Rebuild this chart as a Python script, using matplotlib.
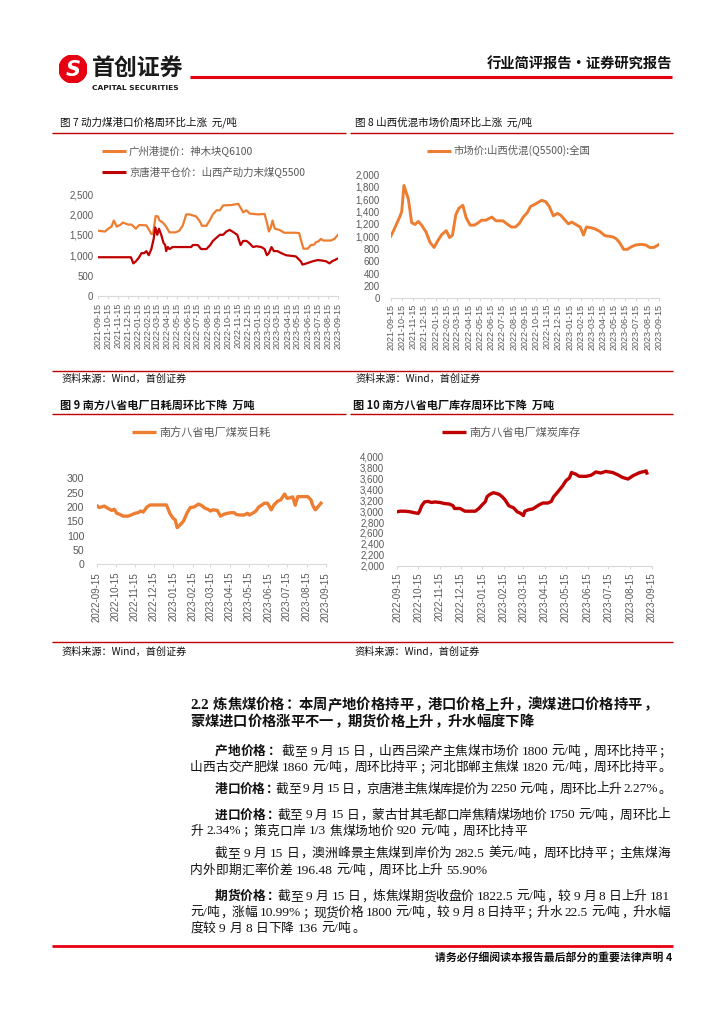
import re
import pandas as pd
import matplotlib
matplotlib.use('Agg')
import matplotlib.pyplot as plt
from matplotlib.lines import Line2D
from matplotlib.patches import Circle
from matplotlib.ticker import FuncFormatter

plt.rcParams['font.family'] = ['Noto Sans CJK SC', 'DejaVu Sans']

# 数据：图7 动力煤港口价格
c7_gz_dates = ['2021-09-15', '2021-10-07', '2021-10-17', '2021-10-27', '2021-11-03', '2021-11-12', '2021-11-24',
               '2021-11-30', '2021-12-17', '2021-12-27', '2022-01-09', '2022-01-19', '2022-02-10', '2022-02-16',
               '2022-02-25', '2022-03-02', '2022-03-10', '2022-03-17', '2022-03-22', '2022-04-01', '2022-04-11',
               '2022-04-21', '2022-05-09', '2022-05-21', '2022-05-31', '2022-06-11', '2022-06-21', '2022-07-11',
               '2022-07-23', '2022-07-29', '2022-08-11', '2022-08-21', '2022-08-31', '2022-09-11', '2022-09-21',
               '2022-10-01', '2022-10-26', '2022-11-16', '2022-11-24', '2022-12-01', '2022-12-11', '2022-12-21',
               '2023-01-15', '2023-02-04', '2023-02-11', '2023-02-17', '2023-02-23', '2023-02-28', '2023-03-07',
               '2023-03-21', '2023-04-05', '2023-05-10', '2023-05-20', '2023-05-28', '2023-06-02', '2023-06-15',
               '2023-06-25', '2023-07-05', '2023-07-10', '2023-07-18', '2023-07-25', '2023-08-01', '2023-08-25',
               '2023-09-04', '2023-09-15']
c7_gz = [1600, 1580, 1650, 1700, 1850, 1700, 1750, 1800, 1750, 1750, 1650, 1740, 1730, 1650, 1520, 1520,
         1960, 1950, 1850, 1800, 1700, 1560, 1560, 1600, 1720, 2000, 2000, 1950, 1820, 1720, 1720, 1850,
         2000, 2100, 2100, 2220, 2230, 2260, 2150, 2050, 2100, 2020, 2000, 2010, 1800, 1580, 1680, 1850,
         1650, 1620, 1550, 1550, 1540, 1300, 1160, 1160, 1250, 1260, 1320, 1340, 1400, 1360, 1360, 1400, 1500]
c7_jt_dates = ['2021-09-15', '2021-12-25', '2022-01-01', '2022-01-09', '2022-01-19', '2022-01-26', '2022-02-03',
               '2022-02-10', '2022-02-17', '2022-02-25', '2022-03-04', '2022-03-09', '2022-03-15', '2022-03-20',
               '2022-03-27', '2022-04-03', '2022-04-08', '2022-04-11', '2022-04-16', '2022-04-21', '2022-05-01',
               '2022-06-26', '2022-07-01', '2022-07-16', '2022-07-26', '2022-08-11', '2022-08-23', '2022-08-31',
               '2022-09-21', '2022-10-01', '2022-10-11', '2022-10-21', '2022-10-31', '2022-11-13', '2022-11-23',
               '2022-12-01', '2022-12-11', '2022-12-19', '2022-12-31', '2023-01-10', '2023-01-25', '2023-02-04',
               '2023-02-11', '2023-02-17', '2023-02-25', '2023-03-04', '2023-03-15', '2023-03-27', '2023-04-10',
               '2023-05-10', '2023-05-25', '2023-05-30', '2023-06-12', '2023-06-30', '2023-07-15', '2023-07-28',
               '2023-08-10', '2023-08-20', '2023-08-28', '2023-09-15']
c7_jt = [950, 950, 800, 850, 950, 1050, 1050, 1100, 1000, 1150, 1400, 1680, 1500, 1650, 1500, 1300, 1250,
         1100, 1200, 1150, 1200, 1200, 1250, 1250, 1150, 1150, 1250, 1350, 1500, 1500, 1580, 1620, 1570,
         1500, 1250, 1350, 1350, 1300, 1200, 1220, 1200, 1150, 1000, 1050, 1200, 1100, 1100, 1050, 1000,
         970, 850, 770, 800, 850, 880, 870, 850, 800, 850, 920]

# 图8 山西优混市场价
c8_dates = ['2021-09-15', '2021-09-22', '2021-10-01', '2021-10-10', '2021-10-15', '2021-10-21', '2021-11-02',
            '2021-11-11', '2021-11-20', '2021-11-29', '2021-12-08', '2021-12-20', '2021-12-31', '2022-01-11',
            '2022-01-20', '2022-02-01', '2022-02-13', '2022-02-22', '2022-03-02', '2022-03-11', '2022-03-19',
            '2022-03-30', '2022-04-08', '2022-04-19', '2022-04-30', '2022-05-09', '2022-05-20', '2022-06-01',
            '2022-06-10', '2022-06-17', '2022-06-28', '2022-07-17', '2022-07-28', '2022-08-09', '2022-08-20',
            '2022-08-31', '2022-09-10', '2022-09-21', '2022-09-30', '2022-10-16', '2022-10-30', '2022-11-10',
            '2022-11-20', '2022-12-01', '2022-12-12', '2022-12-21', '2023-01-02', '2023-01-11', '2023-01-20',
            '2023-02-03', '2023-02-12', '2023-02-21', '2023-03-01', '2023-03-12', '2023-03-24', '2023-04-06',
            '2023-04-20', '2023-05-02', '2023-05-12', '2023-05-21', '2023-05-30', '2023-06-10', '2023-06-20',
            '2023-07-01', '2023-07-13', '2023-07-28', '2023-08-09', '2023-08-20', '2023-08-31', '2023-09-15']
c8_vals = [1000, 1080, 1200, 1320, 1400, 1820, 1600, 1220, 1190, 1240, 1180, 1070, 900, 820, 920, 1030,
           1090, 980, 1020, 1350, 1450, 1500, 1300, 1180, 1180, 1210, 1260, 1260, 1290, 1310, 1250, 1250,
           1200, 1150, 1150, 1210, 1310, 1380, 1480, 1530, 1580, 1560, 1480, 1330, 1370, 1340, 1260, 1200,
           1230, 1180, 1150, 1020, 1150, 1140, 1120, 1080, 1010, 1000, 990, 960, 900, 790, 790, 830, 860,
           870, 860, 820, 820, 870]

# 图9 南方八省电厂煤炭日耗
c9_dates = ['2022-09-15', '2022-09-19', '2022-09-27', '2022-10-03', '2022-10-09', '2022-10-13', '2022-10-17',
            '2022-10-22', '2022-10-27', '2022-11-04', '2022-11-09', '2022-11-15', '2022-11-20', '2022-11-24',
            '2022-11-28', '2022-12-04', '2022-12-09', '2022-12-19', '2023-01-04', '2023-01-10', '2023-01-15',
            '2023-01-18', '2023-01-21', '2023-01-26', '2023-01-31', '2023-02-06', '2023-02-11', '2023-02-17',
            '2023-02-24', '2023-03-01', '2023-03-06', '2023-03-11', '2023-03-15', '2023-03-19', '2023-03-26',
            '2023-03-31', '2023-04-06', '2023-04-11', '2023-04-17', '2023-04-22', '2023-04-25', '2023-04-30',
            '2023-05-08', '2023-05-13', '2023-05-16', '2023-05-21', '2023-05-26', '2023-05-31', '2023-06-09',
            '2023-06-14', '2023-06-20', '2023-06-24', '2023-06-30', '2023-07-05', '2023-07-11', '2023-07-15',
            '2023-07-20', '2023-07-24', '2023-07-28', '2023-08-01', '2023-08-09', '2023-08-17', '2023-08-22',
            '2023-08-25', '2023-08-29', '2023-09-02', '2023-09-07']
c9_vals = [205, 198, 203, 195, 188, 192, 178, 174, 168, 168, 172, 178, 180, 186, 182, 200, 207, 207, 207, 175,
           160, 155, 128, 138, 150, 180, 198, 200, 210, 205, 196, 192, 186, 190, 188, 168, 175, 178, 180, 180,
           174, 172, 172, 178, 172, 178, 185, 200, 213, 213, 190, 207, 220, 225, 245, 230, 232, 235, 206, 236,
           236, 236, 225, 205, 190, 200, 213]

# 图10 南方八省电厂煤炭库存
c10_dates = ['2022-09-15', '2022-09-19', '2022-09-26', '2022-10-03', '2022-10-10', '2022-10-15', '2022-10-17',
             '2022-10-20', '2022-10-24', '2022-10-29', '2022-11-03', '2022-11-08', '2022-11-15', '2022-11-22',
             '2022-11-29', '2022-12-04', '2022-12-06', '2022-12-14', '2022-12-21', '2023-01-05', '2023-01-10',
             '2023-01-15', '2023-01-19', '2023-01-22', '2023-01-26', '2023-01-31', '2023-02-08', '2023-02-13',
             '2023-02-17', '2023-02-22', '2023-03-01', '2023-03-06', '2023-03-11', '2023-03-15', '2023-03-17',
             '2023-03-23', '2023-03-28', '2023-04-02', '2023-04-07', '2023-04-12', '2023-04-19', '2023-04-24',
             '2023-04-27', '2023-05-03', '2023-05-10', '2023-05-15', '2023-05-20', '2023-05-23', '2023-05-29',
             '2023-06-03', '2023-06-13', '2023-06-20', '2023-06-27', '2023-07-04', '2023-07-11', '2023-07-21',
             '2023-07-28', '2023-08-04', '2023-08-12', '2023-08-19', '2023-08-24', '2023-08-29', '2023-09-05',
             '2023-09-07', '2023-09-08']
c10_vals = [2990, 3000, 3000, 2990, 2970, 2960, 3000, 3100, 3170, 3180, 3160, 3170, 3160, 3140, 3130, 3100,
            3050, 3050, 3000, 3000, 3050, 3120, 3170, 3270, 3310, 3340, 3310, 3260, 3200, 3100, 3060, 2990,
            2960, 2920, 3000, 3030, 3040, 3080, 3120, 3150, 3150, 3180, 3260, 3350, 3460, 3560, 3610, 3710,
            3680, 3640, 3640, 3660, 3720, 3700, 3730, 3710, 3670, 3620, 3590, 3650, 3680, 3710, 3730, 3740, 3700]

ORANGE = '#ED7D31'
DRED = '#C00000'
RED = '#E60012'
GREY = '#595959'

W, H = 724, 1024
fig = plt.figure(figsize=(W / 100, H / 100), dpi=100)
renderer = fig.canvas.get_renderer()


def fx(x):
    return x / W


def fy(y):
    return 1 - y / H


def hline(x0, x1, y, color, lw):
    fig.add_artist(Line2D([fx(x0), fx(x1)], [fy(y), fy(y)], color=color, lw=lw,
                          transform=fig.transFigure, solid_capstyle='butt'))


def txt(x, y, s, **kw):
    return fig.text(fx(x), fy(y), s, va='center', **kw)


PUNCT = '，。；：、'


def text_line(x0, y, parts, x1=670, justify=False, size=9.2, color='#111111'):
    # 逐字排版：中文按整字宽，西文用衬线体；justify 时两端对齐，过长时压缩
    em = size * 100 / 72
    toks = []
    for s, w in parts:
        for t in re.findall(r'[!-~]+| +|.', s):
            toks.append((t, w))
    items = []
    for t, w in toks:
        if t.strip() == '':
            items.append((None, 0.25 * em * len(t), 'sp'))
        elif ord(t[0]) > 127:
            a = fig.text(0, 0, t, fontsize=size, fontweight=w, va='center', color=color,
                         ha='left' if t in PUNCT else 'center')
            items.append((a, em, 'punct' if t in PUNCT else 'cjk'))
        else:
            a = fig.text(0, 0, t, fontsize=size * 1.05, fontweight=w, va='center', color=color, ha='left',
                         fontfamily=['Liberation Serif', 'DejaVu Serif'])
            items.append((a, a.get_window_extent(renderer).width + 0.05 * em, 'asc'))
    gap = (x1 - x0 - sum(i[1] for i in items)) / max(len(items) - 1, 1)
    if not justify:
        gap = min(gap, 0)
    x = x0
    for a, wd, kind in items:
        if a is not None:
            if kind == 'cjk':
                a.set_position((fx(x + wd / 2), fy(y)))
            elif kind == 'punct':
                a.set_position((fx(x + 0.1 * em), fy(y)))
            else:
                a.set_position((fx(x + 0.02 * em), fy(y + 0.5)))
        x += wd + gap


def make_chart(left, right, ymax_y, ymin_y, ylim, yticks, xstart, xend, series, lw,
               yfs, xfs, ypad, xpad):
    ax = fig.add_axes([fx(left), fy(ymin_y), (right - left) / W, (ymin_y - ymax_y) / H])
    ax.patch.set_alpha(0)
    for dates, vals, c in series:
        ax.plot(pd.to_datetime(dates), vals, color=c, lw=lw, solid_joinstyle='round')
    ax.set_xlim(pd.Timestamp(xstart), pd.Timestamp(xend))
    ax.set_ylim(*ylim)
    ax.set_yticks(yticks)
    ax.yaxis.set_major_formatter(FuncFormatter(lambda v, p: f'{v:,.0f}'))
    ticks = pd.date_range(xstart, xend, freq=pd.DateOffset(months=1))
    ax.set_xticks(ticks)
    ax.set_xticklabels([t.strftime('%Y-%m-%d') for t in ticks], rotation=90)
    for s in ['top', 'right', 'left']:
        ax.spines[s].set_visible(False)
    ax.spines['bottom'].set_color('#D9D9D9')
    ax.spines['bottom'].set_linewidth(0.8)
    ax.tick_params(axis='y', length=0, labelsize=yfs, labelcolor=GREY, pad=ypad)
    ax.tick_params(axis='x', length=2.5, width=0.8, color='#D9D9D9', labelsize=xfs,
                   labelcolor=GREY, pad=xpad)
    for lab in ax.get_xticklabels() + ax.get_yticklabels():
        lab.set_fontfamily(['Liberation Sans', 'DejaVu Sans'])
    return ax


def legend_item(x0, y, color, label, lw, size):
    hline(x0, x0 + 24, y, color, lw)
    txt(x0 + 27, y, label, fontsize=size, color=GREY)


# 页眉
logo = fig.add_axes([fx(59), fy(83), 28 / W, 28 / H])
logo.set_xlim(-1, 1)
logo.set_ylim(-1, 1)
logo.axis('off')
logo.add_patch(Circle((0, 0), 1, color=RED))
logo.text(0, -0.05, 'S', color='white', fontsize=15, fontweight='bold', ha='center', va='center',
          fontfamily='DejaVu Sans', style='italic')
txt(92, 68, '首创证券', fontsize=16.5, fontweight='bold', color='#1a1a1a')
txt(92, 88, 'CAPITAL SECURITIES', fontsize=5.4, fontweight='bold', color='#1a1a1a',
    fontfamily='DejaVu Sans')
txt(672, 65, '行业简评报告·证券研究报告', fontsize=10.3, fontweight='bold', color='#111111', ha='right')
hline(190, 672, 77, RED, 2.2)

# 图7 / 图8
txt(60, 122, '图 7 动力煤港口价格周环比上涨  元/吨', fontsize=7.6, color='#111111')
txt(355, 122, '图 8 山西优混市场价周环比上涨  元/吨', fontsize=7.6, color='#111111')
hline(52, 346, 133, DRED, 1.0)
hline(350, 673, 133, DRED, 1.0)

make_chart(97.7, 338, 194, 296, (0, 2500), range(0, 2501, 500), '2021-09-15', '2023-09-15',
           [(c7_gz_dates, c7_gz, ORANGE), (c7_jt_dates, c7_jt, DRED)], 1.6, 7, 6.5, 3.2, 2.5)
legend_item(102, 150.7, ORANGE, '广州港提价：神木块Q6100', 2.2, 7.5)
legend_item(102, 171.7, DRED, '京唐港平仓价：山西产动力末煤Q5500', 2.2, 7.5)

make_chart(390.7, 659.3, 174.3, 298.3, (0, 2000), range(0, 2001, 200), '2021-09-15', '2023-09-15',
           [(c8_dates, c8_vals, ORANGE)], 2.1, 7, 6.5, 8, 1.5)
legend_item(427, 150.7, ORANGE, '市场价:山西优混(Q5500):全国', 2.2, 7.5)

hline(52, 673, 371, DRED, 1.0)
txt(61, 379, '资料来源：Wind，首创证券', fontsize=7.3, color='#111111', style='italic')
txt(355, 379, '资料来源：Wind，首创证券', fontsize=7.3, color='#111111', style='italic')

# 图9 / 图10
txt(60, 405, '图 9 南方八省电厂日耗周环比下降  万吨', fontsize=8, color='#111111', fontweight='bold')
txt(353, 405, '图 10 南方八省电厂库存周环比下降  万吨', fontsize=8, color='#111111', fontweight='bold')
hline(52, 346, 414.3, DRED, 1.0)
hline(350, 673, 414.3, DRED, 1.0)

make_chart(96.7, 326, 478.3, 564.3, (0, 300), range(0, 301, 50), '2022-09-15', '2023-09-15',
           [(c9_dates, c9_vals, ORANGE)], 2.4, 7.6, 7, 9, 3)
legend_item(132, 432.3, ORANGE, '南方八省电厂煤炭日耗', 2.4, 8)

make_chart(397.3, 651.7, 456.7, 565.7, (2000, 4000), range(2000, 4001, 200), '2022-09-15', '2023-09-15',
           [(c10_dates, c10_vals, DRED)], 2.4, 7, 7, 9.4, 2.5)
legend_item(442, 432.3, DRED, '南方八省电厂煤炭库存', 2.4, 8)

hline(52, 673, 642.3, DRED, 1.0)
txt(61, 651.7, '资料来源：Wind，首创证券', fontsize=7.3, color='#111111', style='italic')
txt(354, 651.7, '资料来源：Wind，首创证券', fontsize=7.3, color='#111111', style='italic')

# 正文
text_line(190, 705, [('2.2 炼焦煤价格：本周产地价格持平，港口价格上升，澳煤进口价格持平，', 'bold')], size=10.3)
text_line(190, 721.7, [('蒙煤进口价格涨平不一，期货价格上升，升水幅度下降', 'bold')], size=10.3)

text_line(215, 751.7, [('产地价格：', 'bold'), (' 截至 9 月 15 日，山西吕梁产主焦煤市场价 1800 元/吨，周环比持平；', 'normal')], justify=True)
text_line(190, 767.3, [('山西古交产肥煤 1860 元/吨，周环比持平；河北邯郸主焦煤 1820 元/吨，周环比持平。', 'normal')])
text_line(215, 789, [('港口价格：', 'bold'), ('截至 9 月 15 日，京唐港主焦煤库提价为 2250 元/吨，周环比上升 2.27%。', 'normal')])
text_line(215, 815, [('进口价格：', 'bold'), ('截至 9 月 15 日，蒙古甘其毛都口岸焦精煤场地价 1750 元/吨，周环比上', 'normal')], justify=True)
text_line(190, 831, [('升 2.34%；策克口岸 1/3 焦煤场地价 920 元/吨，周环比持平', 'normal')])
text_line(215, 853.3, [('截至 9 月 15 日，澳洲峰景主焦煤到岸价为 282.5 美元/吨，周环比持平；主焦煤海', 'normal')], justify=True)
text_line(190, 870.7, [('内外即期汇率价差 196.48 元/吨，周环比上升 55.90%', 'normal')])
text_line(215, 896.7, [('期货价格：', 'bold'), ('截至 9 月 15 日，炼焦煤期货收盘价 1822.5 元/吨，较 9 月 8 日上升 181', 'normal')], justify=True)
text_line(190, 912.7, [('元/吨，涨幅 10.99%；现货价格 1800 元/吨，较 9 月 8 日持平；升水 22.5 元/吨，升水幅', 'normal')], justify=True)
text_line(190, 928.3, [('度较 9 月 8 日下降 136 元/吨。', 'normal')])

# 页脚
hline(52, 673, 946, RED, 2.0)
txt(672, 957, '请务必仔细阅读本报告最后部分的重要法律声明 4', fontsize=7.8, fontweight='bold',
    color='#111111', ha='right')

fig.savefig('out.png', dpi=100)
